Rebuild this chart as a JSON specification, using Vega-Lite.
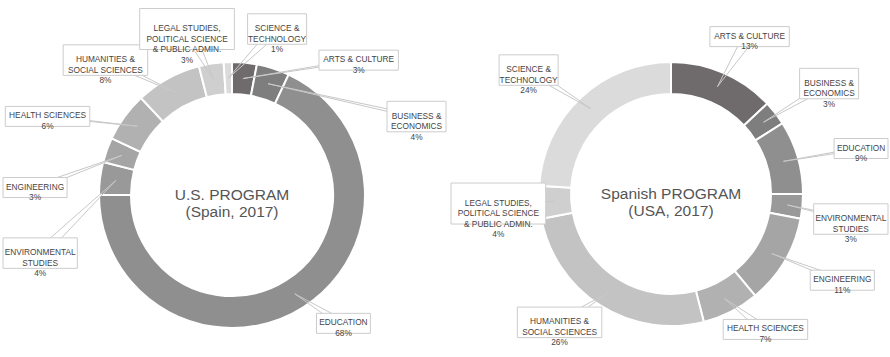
{
  "$schema": "https://vega.github.io/schema/vega-lite/v6.json",
  "autosize": {"type": "pad"},
  "padding": 0,
  "bounds": "flush",
  "background": "#ffffff",
  "config": {"view": {"stroke": null}, "font": "Liberation Sans"},
  "spacing": 0,
  "data": {
    "values": [
      {"program": "U.S. PROGRAM\n(Spain, 2017)", "idx": 1, "category": "ARTS & CULTURE", "pct": 3},
      {"program": "U.S. PROGRAM\n(Spain, 2017)", "idx": 2, "category": "BUSINESS &\nECONOMICS", "pct": 4},
      {"program": "U.S. PROGRAM\n(Spain, 2017)", "idx": 3, "category": "EDUCATION", "pct": 68},
      {"program": "U.S. PROGRAM\n(Spain, 2017)", "idx": 4, "category": "ENVIRONMENTAL\nSTUDIES", "pct": 4},
      {"program": "U.S. PROGRAM\n(Spain, 2017)", "idx": 5, "category": "ENGINEERING", "pct": 3},
      {"program": "U.S. PROGRAM\n(Spain, 2017)", "idx": 6, "category": "HEALTH SCIENCES", "pct": 6},
      {"program": "U.S. PROGRAM\n(Spain, 2017)", "idx": 7, "category": "HUMANITIES &\nSOCIAL SCIENCES", "pct": 8},
      {"program": "U.S. PROGRAM\n(Spain, 2017)", "idx": 8, "category": "LEGAL STUDIES,\nPOLITICAL SCIENCE\n& PUBLIC ADMIN.", "pct": 3},
      {"program": "U.S. PROGRAM\n(Spain, 2017)", "idx": 9, "category": "SCIENCE &\nTECHNOLOGY", "pct": 1},
      {"program": "Spanish PROGRAM\n(USA, 2017)", "idx": 1, "category": "ARTS & CULTURE", "pct": 13},
      {"program": "Spanish PROGRAM\n(USA, 2017)", "idx": 2, "category": "BUSINESS &\nECONOMICS", "pct": 3},
      {"program": "Spanish PROGRAM\n(USA, 2017)", "idx": 3, "category": "EDUCATION", "pct": 9},
      {"program": "Spanish PROGRAM\n(USA, 2017)", "idx": 4, "category": "ENVIRONMENTAL\nSTUDIES", "pct": 3},
      {"program": "Spanish PROGRAM\n(USA, 2017)", "idx": 5, "category": "ENGINEERING", "pct": 11},
      {"program": "Spanish PROGRAM\n(USA, 2017)", "idx": 6, "category": "HEALTH SCIENCES", "pct": 7},
      {"program": "Spanish PROGRAM\n(USA, 2017)", "idx": 7, "category": "HUMANITIES &\nSOCIAL SCIENCES", "pct": 26},
      {"program": "Spanish PROGRAM\n(USA, 2017)", "idx": 8, "category": "LEGAL STUDIES,\nPOLITICAL SCIENCE\n& PUBLIC ADMIN.", "pct": 4},
      {"program": "Spanish PROGRAM\n(USA, 2017)", "idx": 9, "category": "SCIENCE &\nTECHNOLOGY", "pct": 24}
    ]
  },
  "transform": [
    {"window": [{"op": "sum", "field": "pct", "as": "cum"}], "sort": [{"field": "idx", "order": "ascending"}], "groupby": ["program"], "frame": [null, 0]},
    {"calculate": "(datum.cum - datum.pct / 2) * 3.6", "as": "mid"},
    {"calculate": "datum.mid > 270 ? datum.mid - 360 : datum.mid", "as": "a"},
    {"window": [{"op": "row_number", "as": "i"}], "sort": [{"field": "a", "order": "ascending"}], "groupby": ["program"]},
    {"calculate": "datum.a - 25 * datum.i", "as": "f"},
    {"window": [{"op": "max", "field": "f", "as": "fmax"}], "sort": [{"field": "a", "order": "ascending"}], "groupby": ["program"], "frame": [null, 0]},
    {"window": [{"op": "min", "field": "f", "as": "fmin"}], "sort": [{"field": "a", "order": "ascending"}], "groupby": ["program"], "frame": [0, null]},
    {"calculate": "(25 * datum.i + 0.6 * datum.fmax + 0.4 * datum.fmin) * PI / 180", "as": "th"},
    {"calculate": "208 * sin(datum.th)", "as": "lx0"},
    {"calculate": "cos(datum.th) > 0 ? -170 * cos(datum.th) : -152 * cos(datum.th)", "as": "ly"},
    {"calculate": "117 * sin(datum.mid * PI / 180)", "as": "ax"},
    {"calculate": "-117 * cos(datum.mid * PI / 180)", "as": "ay"},
    {"calculate": "datum.category + '\\n' + datum.pct + '%'", "as": "label"},
    {"calculate": "split(datum.label, '\\n')", "as": "parts"},
    {"calculate": "max(length(datum.parts[0]), length(datum.parts[1] || ''), length(datum.parts[2] || ''), length(datum.parts[3] || ''))", "as": "maxlen"},
    {"calculate": "datum.maxlen * 5.1 + 8", "as": "bw"},
    {"calculate": "length(datum.parts) * 10.5 - 1", "as": "bh"},
    {"calculate": "datum.ly - datum.bh / 2", "as": "by1"},
    {"calculate": "datum.ly + datum.bh / 2", "as": "by2"}
  ],
  "hconcat": [
    {
      "transform": [
        {"filter": "datum.program == 'U.S. PROGRAM\\n(Spain, 2017)'"},
        {"calculate": "clamp(datum.lx0, -229 + datum.bw / 2, 229 - datum.bw / 2)", "as": "lx"},
        {"calculate": "datum.lx - 7", "as": "lx1"},
        {"calculate": "datum.lx + 7", "as": "lx2"},
        {"calculate": "datum.lx - datum.bw / 2", "as": "bx1"},
        {"calculate": "datum.lx + datum.bw / 2", "as": "bx2"}
      ],
      "width": 464,
      "height": 357,
      "layer": [
        {
          "mark": {"type": "arc", "innerRadius": 101, "outerRadius": 133, "stroke": "#ffffff", "strokeWidth": 2},
          "encoding": {
            "x": {"datum": 0, "type": "quantitative", "axis": null, "scale": {"domain": [-232, 232], "nice": false, "zero": false}},
            "y": {"datum": 0, "type": "quantitative", "axis": null, "scale": {"domain": [-195, 162], "nice": false, "zero": false, "reverse": true}},
            "theta": {"field": "pct", "type": "quantitative", "stack": true},
            "order": {"field": "idx", "type": "quantitative"},
            "color": {
              "field": "category",
              "type": "nominal",
              "legend": null,
              "scale": {
                "domain": ["ARTS & CULTURE", "BUSINESS &\nECONOMICS", "EDUCATION", "ENVIRONMENTAL\nSTUDIES", "ENGINEERING", "HEALTH SCIENCES", "HUMANITIES &\nSOCIAL SCIENCES", "LEGAL STUDIES,\nPOLITICAL SCIENCE\n& PUBLIC ADMIN.", "SCIENCE &\nTECHNOLOGY"],
                "range": ["#6f6b6c", "#7e7e7e", "#8f8f8f", "#999999", "#a5a5a5", "#b1b1b1", "#c3c3c3", "#cfcfcf", "#dcdbdb"]
              }
            }
          }
        },
        {
          "mark": {"type": "rule", "stroke": "#c8c8c8", "strokeWidth": 1},
          "encoding": {
            "x": {"field": "ax", "type": "quantitative", "axis": null, "scale": {"domain": [-232, 232], "nice": false, "zero": false}},
            "y": {"field": "ay", "type": "quantitative", "axis": null, "scale": {"domain": [-195, 162], "nice": false, "zero": false, "reverse": true}},
            "x2": {"field": "lx1"},
            "y2": {"field": "ly"}
          }
        },
        {
          "mark": {"type": "rule", "stroke": "#c8c8c8", "strokeWidth": 1},
          "encoding": {
            "x": {"field": "ax", "type": "quantitative", "axis": null, "scale": {"domain": [-232, 232], "nice": false, "zero": false}},
            "y": {"field": "ay", "type": "quantitative", "axis": null, "scale": {"domain": [-195, 162], "nice": false, "zero": false, "reverse": true}},
            "x2": {"field": "lx2"},
            "y2": {"field": "ly"}
          }
        },
        {
          "mark": {"type": "rect", "fill": "#ffffff", "stroke": "#cccccc", "strokeWidth": 1},
          "encoding": {
            "x": {"field": "bx1", "type": "quantitative", "axis": null, "scale": {"domain": [-232, 232], "nice": false, "zero": false}},
            "y": {"field": "by1", "type": "quantitative", "axis": null, "scale": {"domain": [-195, 162], "nice": false, "zero": false, "reverse": true}},
            "x2": {"field": "bx2"},
            "y2": {"field": "by2"}
          }
        },
        {
          "mark": {"type": "text", "fontSize": 8.3, "font": "Liberation Sans", "fill": "#444444", "align": "center", "baseline": "middle", "lineBreak": "\n", "lineHeight": 10.5},
          "encoding": {
            "x": {"field": "lx", "type": "quantitative", "axis": null, "scale": {"domain": [-232, 232], "nice": false, "zero": false}},
            "y": {"field": "ly", "type": "quantitative", "axis": null, "scale": {"domain": [-195, 162], "nice": false, "zero": false, "reverse": true}},
            "text": {"field": "label", "type": "nominal"}
          }
        },
        {
          "transform": [{"filter": "datum.idx == 1"}],
          "mark": {"type": "text", "fontSize": 15.5, "font": "Liberation Sans", "fill": "#555555", "align": "center", "baseline": "middle", "lineBreak": "\n", "lineHeight": 16.5},
          "encoding": {
            "x": {"datum": 0, "type": "quantitative", "axis": null, "scale": {"domain": [-232, 232], "nice": false, "zero": false}},
            "y": {"datum": 0, "type": "quantitative", "axis": null, "scale": {"domain": [-195, 162], "nice": false, "zero": false, "reverse": true}},
            "text": {"field": "program", "type": "nominal"}
          }
        }
      ]
    },
    {
      "transform": [
        {"filter": "datum.program == 'Spanish PROGRAM\\n(USA, 2017)'"},
        {"calculate": "clamp(datum.lx0, -220 + datum.bw / 2, 217 - datum.bw / 2)", "as": "lx"},
        {"calculate": "datum.lx - 7", "as": "lx1"},
        {"calculate": "datum.lx + 7", "as": "lx2"},
        {"calculate": "datum.lx - datum.bw / 2", "as": "bx1"},
        {"calculate": "datum.lx + datum.bw / 2", "as": "bx2"}
      ],
      "width": 426,
      "height": 357,
      "layer": [
        {
          "mark": {"type": "arc", "innerRadius": 100, "outerRadius": 132, "stroke": "#ffffff", "strokeWidth": 2},
          "encoding": {
            "x": {"datum": 0, "type": "quantitative", "axis": null, "scale": {"domain": [-207, 219], "nice": false, "zero": false}},
            "y": {"datum": 0, "type": "quantitative", "axis": null, "scale": {"domain": [-194, 163], "nice": false, "zero": false, "reverse": true}},
            "theta": {"field": "pct", "type": "quantitative", "stack": true},
            "order": {"field": "idx", "type": "quantitative"},
            "color": {
              "field": "category",
              "type": "nominal",
              "legend": null,
              "scale": {
                "domain": ["ARTS & CULTURE", "BUSINESS &\nECONOMICS", "EDUCATION", "ENVIRONMENTAL\nSTUDIES", "ENGINEERING", "HEALTH SCIENCES", "HUMANITIES &\nSOCIAL SCIENCES", "LEGAL STUDIES,\nPOLITICAL SCIENCE\n& PUBLIC ADMIN.", "SCIENCE &\nTECHNOLOGY"],
                "range": ["#6f6b6c", "#7e7e7e", "#8f8f8f", "#999999", "#a5a5a5", "#b1b1b1", "#c3c3c3", "#cfcfcf", "#dcdbdb"]
              }
            }
          }
        },
        {
          "mark": {"type": "rule", "stroke": "#c8c8c8", "strokeWidth": 1},
          "encoding": {
            "x": {"field": "ax", "type": "quantitative", "axis": null, "scale": {"domain": [-207, 219], "nice": false, "zero": false}},
            "y": {"field": "ay", "type": "quantitative", "axis": null, "scale": {"domain": [-194, 163], "nice": false, "zero": false, "reverse": true}},
            "x2": {"field": "lx1"},
            "y2": {"field": "ly"}
          }
        },
        {
          "mark": {"type": "rule", "stroke": "#c8c8c8", "strokeWidth": 1},
          "encoding": {
            "x": {"field": "ax", "type": "quantitative", "axis": null, "scale": {"domain": [-207, 219], "nice": false, "zero": false}},
            "y": {"field": "ay", "type": "quantitative", "axis": null, "scale": {"domain": [-194, 163], "nice": false, "zero": false, "reverse": true}},
            "x2": {"field": "lx2"},
            "y2": {"field": "ly"}
          }
        },
        {
          "mark": {"type": "rect", "fill": "#ffffff", "stroke": "#cccccc", "strokeWidth": 1},
          "encoding": {
            "x": {"field": "bx1", "type": "quantitative", "axis": null, "scale": {"domain": [-207, 219], "nice": false, "zero": false}},
            "y": {"field": "by1", "type": "quantitative", "axis": null, "scale": {"domain": [-194, 163], "nice": false, "zero": false, "reverse": true}},
            "x2": {"field": "bx2"},
            "y2": {"field": "by2"}
          }
        },
        {
          "mark": {"type": "text", "fontSize": 8.3, "font": "Liberation Sans", "fill": "#444444", "align": "center", "baseline": "middle", "lineBreak": "\n", "lineHeight": 10.5},
          "encoding": {
            "x": {"field": "lx", "type": "quantitative", "axis": null, "scale": {"domain": [-207, 219], "nice": false, "zero": false}},
            "y": {"field": "ly", "type": "quantitative", "axis": null, "scale": {"domain": [-194, 163], "nice": false, "zero": false, "reverse": true}},
            "text": {"field": "label", "type": "nominal"}
          }
        },
        {
          "transform": [{"filter": "datum.idx == 1"}],
          "mark": {"type": "text", "fontSize": 15.5, "font": "Liberation Sans", "fill": "#555555", "align": "center", "baseline": "middle", "lineBreak": "\n", "lineHeight": 16.5},
          "encoding": {
            "x": {"datum": 0, "type": "quantitative", "axis": null, "scale": {"domain": [-207, 219], "nice": false, "zero": false}},
            "y": {"datum": 0, "type": "quantitative", "axis": null, "scale": {"domain": [-194, 163], "nice": false, "zero": false, "reverse": true}},
            "text": {"field": "program", "type": "nominal"}
          }
        }
      ]
    }
  ]
}
